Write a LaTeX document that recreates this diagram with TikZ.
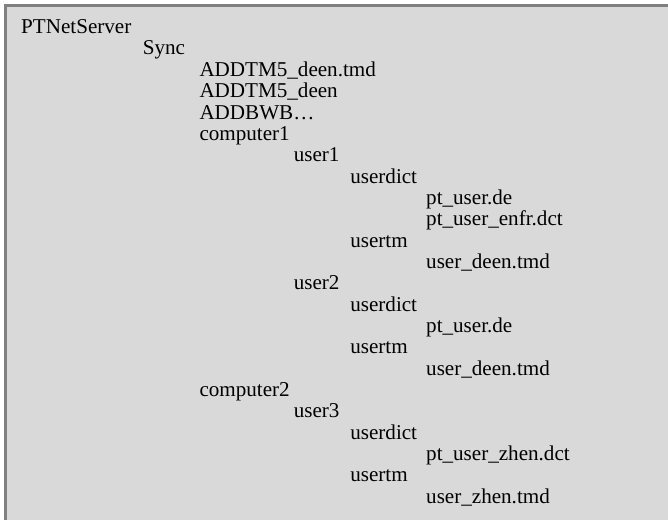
\documentclass[tikz,border=0pt]{standalone}
\usepackage{fontspec}
\setmainfont{Liberation Serif}
\definecolor{panelbg}{HTML}{D9D9D9}
\definecolor{panelrule}{HTML}{808080}
\tikzset{
  item/.style={anchor=base west, inner sep=0pt, outer sep=0pt, text=black,
    font=\fontsize{21.1pt}{21.33pt}\selectfont}
}
\begin{document}
\begin{tikzpicture}[x=1pt,y=1pt]
\useasboundingbox (0,0) rectangle (668,-519);
\fill[white] (-5,5) rectangle (680,-530);
\fill[panelrule] (4,-4) rectangle (680,-530);
\fill[panelbg] (7,-7) rectangle (680,-530);
% levels: 21.2, 142.8, 199.5, 293.8, 350.3, 426.2
\node[item] (n0)  at (21.2,-33.7)  {PTNetServer};
\node[item] (n1)  at (142.8,-55.0) {Sync};
\node[item] (n2)  at (199.5,-76.4) {ADDTM5\_deen.tmd};
\node[item] (n3)  at (199.5,-97.7) {ADDTM5\_deen};
\node[item] (n4)  at (199.5,-119.0) {ADDBWB…};
\node[item] (n5)  at (199.5,-140.4) {computer1};
\node[item] (n6)  at (293.8,-161.7) {user1};
\node[item] (n7)  at (350.3,-183.0) {userdict};
\node[item] (n8)  at (426.2,-204.4) {pt\_user.de};
\node[item] (n9)  at (426.2,-225.7) {pt\_user\_enfr.dct};
\node[item] (n10) at (350.3,-247.0) {usertm};
\node[item] (n11) at (426.2,-268.4) {user\_deen.tmd};
\node[item] (n12) at (293.8,-289.7) {user2};
\node[item] (n13) at (350.3,-311.0) {userdict};
\node[item] (n14) at (426.2,-332.4) {pt\_user.de};
\node[item] (n15) at (350.3,-353.7) {usertm};
\node[item] (n16) at (426.2,-375.0) {user\_deen.tmd};
\node[item] (n17) at (199.5,-396.4) {computer2};
\node[item] (n18) at (293.8,-417.7) {user3};
\node[item] (n19) at (350.3,-439.0) {userdict};
\node[item] (n20) at (426.2,-460.4) {pt\_user\_zhen.dct};
\node[item] (n21) at (350.3,-481.7) {usertm};
\node[item] (n22) at (426.2,-503.0) {user\_zhen.tmd};
\end{tikzpicture}
\end{document}
